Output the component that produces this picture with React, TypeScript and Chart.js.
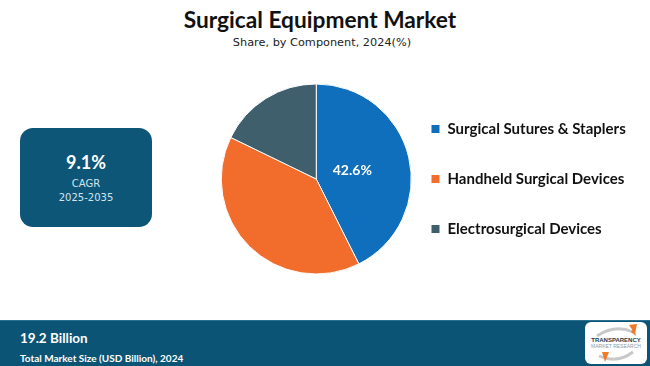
import React, { useEffect, useRef } from "react";
import { Chart, registerables } from "chart.js";

Chart.register(...registerables);

const categories = ["Surgical Sutures & Staplers", "Handheld Surgical Devices", "Electrosurgical Devices"];
const shares = [42.6, 39.6, 17.8];
const colors = ["#0f6fbd", "#f26c2c", "#405f6d"];
const labelIndex = [0];

const titleText = "Surgical Equipment Market";
const subtitleText = "Share, by Component, 2024(%)";
const cagrValue = "9.1%";
const cagrLabel = "CAGR";
const cagrPeriod = "2025-2035";
const marketValue = "19.2 Billion";
const marketLabel = "Total Market Size (USD Billion), 2024";

const LEGEND_PAD = 35;
const LEGEND_BOX_X = 231; // canvas x of legend colour boxes

const sliceLabelPlugin = {
  id: "sliceLabel",
  afterDatasetsDraw(chart: any) {
    const meta = chart.getDatasetMeta(0);
    const ctx = chart.ctx;
    ctx.save();
    ctx.fillStyle = "#ffffff";
    ctx.font = "bold 14px Lato";
    ctx.textAlign = "center";
    ctx.textBaseline = "middle";
    labelIndex.forEach((i) => {
      const el = meta.data[i] as any;
      const p = el.getProps(["x", "y", "startAngle", "endAngle", "outerRadius"], true);
      const mid = (p.startAngle + p.endAngle) / 2;
      const r = p.outerRadius * 0.39;
      ctx.fillText(shares[i].toFixed(1) + "%", p.x + Math.cos(mid) * r, p.y + Math.sin(mid) * r);
    });
    ctx.restore();
  },
};

const legendPlacePlugin = {
  id: "legendPlace",
  afterLayout(chart: any) {
    const lg = chart.legend;
    if (!lg) return;
    const w = lg.width;
    lg.left = LEGEND_BOX_X - LEGEND_PAD;
    lg.right = lg.left + w + 60;
    lg.width = lg.right - lg.left;
    if (typeof lg.adjustHitBoxes === "function") lg.adjustHitBoxes();
  },
};

function PieChart() {
  const ref = useRef<HTMLCanvasElement>(null);
  useEffect(() => {
    const chart = new Chart(ref.current!, {
      type: "pie",
      data: {
        labels: categories,
        datasets: [
          {
            data: shares,
            backgroundColor: colors,
            borderColor: "#ffffff",
            borderWidth: 1,
            radius: 95,
            clip: false as any,
          },
        ],
      },
      options: {
        responsive: false,
        animation: false,
        layout: { padding: { left: 5, right: 0, top: 0, bottom: 0 } },
        plugins: {
          tooltip: { enabled: false },
          legend: {
            position: "right",
            labels: {
              boxWidth: 9,
              boxHeight: 9,
              padding: LEGEND_PAD,
              color: "#111111",
              font: { family: "Lato", weight: "bold", size: 15 },
            },
          },
        },
      },
      plugins: [sliceLabelPlugin, legendPlacePlugin],
    });
    return () => chart.destroy();
  }, []);
  return (
    <canvas
      ref={ref}
      width={450}
      height={220}
      style={{ position: "absolute", left: 200, top: 69, width: 450, height: 220 }}
    />
  );
}

function Logo() {
  return (
    <div
      style={{
        position: "absolute",
        left: 585,
        top: 322,
        width: 62,
        height: 42,
        background: "#ffffff",
        borderRadius: 6,
        overflow: "hidden",
      }}
    >
      <svg width="62" height="42" style={{ position: "absolute", left: 0, top: 0 }}>
        <path d="M12 14 Q30 2 48 10" stroke="#c8c8c8" strokeWidth="3" fill="none" />
        <path d="M44 3 L52 2 L50 12 Z" fill="#f07a2a" />
        <path d="M46 10 L49 6 L51 14 Z" fill="#f07a2a" />
        <path d="M48 30 Q32 42 14 34" stroke="#c8c8c8" strokeWidth="3" fill="none" />
        <path d="M17 30 L24 30 L20 40 Z" fill="#f07a2a" />
        <text x="31" y="20" textAnchor="middle" fontFamily="Liberation Sans" fontWeight="bold" fontSize="6" fill="#2a3a4a">
          TRANSPARENCY
        </text>
        <text x="31" y="26" textAnchor="middle" fontFamily="Liberation Sans" fontSize="5" fill="#8a9aa8">
          MARKET RESEARCH
        </text>
      </svg>
    </div>
  );
}

export default function App() {
  return (
    <div
      style={{
        position: "fixed",
        left: 0,
        top: 0,
        width: 650,
        height: 366,
        background: "#ffffff",
        overflow: "hidden",
        fontFamily: "Lato, sans-serif",
      }}
    >
      <div
        style={{
          position: "absolute",
          left: 0,
          top: 6,
          width: 640,
          textAlign: "center",
          fontWeight: "bold",
          fontSize: 22.7,
          color: "#111111",
          lineHeight: "28px",
        }}
      >
        {titleText}
      </div>
      <div
        style={{
          position: "absolute",
          left: 0,
          top: 35,
          width: 644,
          textAlign: "center",
          fontFamily: "'DejaVu Sans', sans-serif",
          fontSize: 11.3,
          color: "#222222",
          lineHeight: "16px",
        }}
      >
        {subtitleText}
      </div>

      <div
        style={{
          position: "absolute",
          left: 20,
          top: 128,
          width: 132,
          height: 99,
          background: "#0d5678",
          borderRadius: 13,
          color: "#ffffff",
          textAlign: "center",
        }}
      >
        <div style={{ position: "absolute", top: 22, width: "100%", fontWeight: "bold", fontSize: 18, lineHeight: "24px" }}>
          {cagrValue}
        </div>
        <div
          style={{
            position: "absolute",
            top: 49,
            width: "100%",
            fontFamily: "'DejaVu Sans', sans-serif",
            fontSize: 10,
            lineHeight: "14px",
            color: "#d2e4ee",
          }}
        >
          {cagrLabel}
          <br />
          {cagrPeriod}
        </div>
      </div>

      <PieChart />

      <div
        style={{
          position: "absolute",
          left: 0,
          top: 320,
          width: 650,
          height: 46,
          background: "#0b5475",
          borderTop: "1px solid #2a6f8f",
        }}
      >
        <div style={{ position: "absolute", left: 20, top: 7, color: "#ffffff", fontWeight: "bold", fontSize: 13.5, lineHeight: "20px" }}>
          {marketValue}
        </div>
        <div style={{ position: "absolute", left: 20, top: 30, color: "#ffffff", fontWeight: "bold", fontSize: 10, lineHeight: "14px" }}>
          {marketLabel}
        </div>
      </div>
      <Logo />
    </div>
  );
}
